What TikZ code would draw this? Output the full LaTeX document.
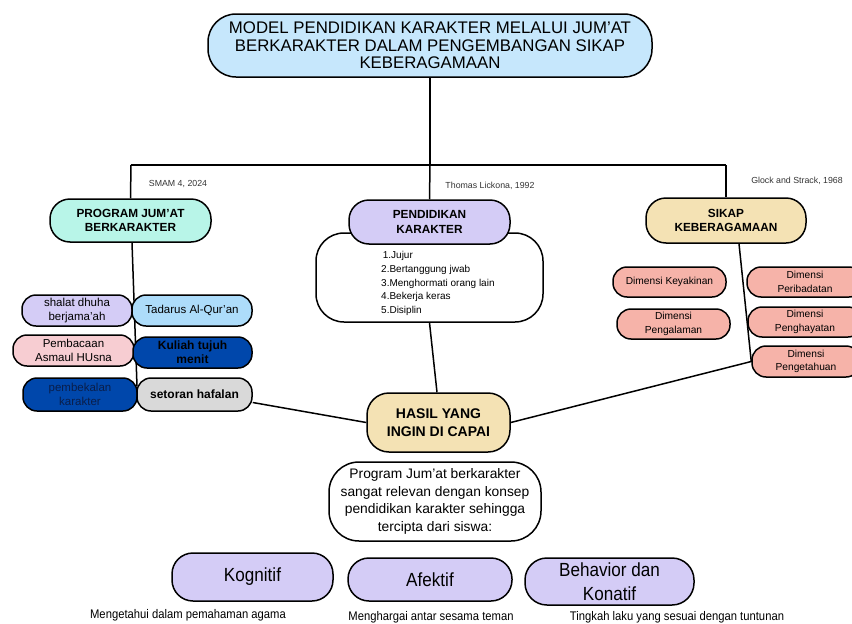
\documentclass[tikz,border=0pt]{standalone}
\usepackage{fontspec}
\setmainfont{Liberation Sans}
\newfontfamily\condf[FakeStretch=0.9]{Liberation Sans}
\newcommand\fsz[2]{\fontsize{#1}{#2}\selectfont}
\definecolor{titleblue}{HTML}{C6E7FC}
\definecolor{mint}{HTML}{B8F5E8}
\definecolor{lav}{HTML}{D4CCF6}
\definecolor{wheat}{HTML}{F4E2B4}
\definecolor{skyb}{HTML}{ADDCFA}
\definecolor{pinkc}{HTML}{F7CDD2}
\definecolor{darkb}{HTML}{0047AB}
\definecolor{grayc}{HTML}{D9D9D9}
\definecolor{salmon}{HTML}{F6B3A9}
\definecolor{navytext}{HTML}{0A1E4A}
\pgfdeclarelayer{background}
\pgfsetlayers{background,main}
\tikzset{
  box/.style={draw, line width=1.5pt, align=center, inner sep=0pt},
  conn/.style={draw, line width=1.5pt},
  ref/.style={font=\fsz{8.8}{10}, text=black!80},
  small/.style={box, rounded corners=14pt, minimum height=31pt, font=\fsz{11.5}{14}},
  dim/.style={box, rounded corners=14pt, fill=salmon, minimum height=30pt, font=\fsz{10.2}{13.5}},
  bot/.style={box, rounded corners=21pt, fill=lav, font=\condf\fsz{19}{24}},
  captxt/.style={font=\condf\fsz{12.5}{14}}
}
\begin{document}
\begin{tikzpicture}[x=1pt,y=-1pt]
\useasboundingbox (0,0) rectangle (852,624);
\clip (0,0) rectangle (852,624);
% title
\node[box, fill=titleblue, minimum width=444pt, minimum height=63pt, rounded corners=28pt, font=\fsz{16.8}{17.5}] (title) at (430,45.5)
 {MODEL PENDIDIKAN KARAKTER MELALUI JUM’AT\\BERKARAKTER DALAM PENGEMBANGAN SIKAP\\KEBERAGAMAAN};
% references
\node[ref] (r1) at (178,184) {SMAM 4, 2024};
\node[ref] (r2) at (490,186) {Thomas Lickona, 1992};
\node[ref] (r3) at (797,181) {Glock and Strack, 1968};
% main boxes
\node[box, fill=mint, minimum width=161pt, minimum height=43pt, rounded corners=20pt, font=\bfseries\fsz{11.8}{14.5}] (prog) at (130.5,220.5) {PROGRAM JUM’AT\\BERKARAKTER};
\node[box, fill=white, minimum width=227pt, minimum height=89pt, rounded corners=28pt] (list) at (429.5,277.5) {};
\node[align=left, inner sep=0pt, font=\fsz{10}{13.8}, anchor=north west] (items) at (381,251)
 {\,1.Jujur\\2.Bertanggung jwab\\3.Menghormati orang lain\\4.Bekerja keras\\5.Disiplin};
\node[box, fill=lav, minimum width=161pt, minimum height=44pt, rounded corners=20pt, font=\bfseries\fsz{11.8}{14.5}] (pend) at (429.5,222) {PENDIDIKAN\\KARAKTER};
\node[box, fill=wheat, minimum width=160pt, minimum height=45pt, rounded corners=20pt, font=\bfseries\fsz{11.8}{14.5}] (sikap) at (726,220.5) {SIKAP\\KEBERAGAMAAN};
\node[box, fill=wheat, minimum width=143pt, minimum height=59pt, rounded corners=22pt, font=\bfseries\fsz{14}{18}] (hasil) at (438.5,422.5) {HASIL YANG\\INGIN DI CAPAI};
% left boxes
\node[small, fill=lav, minimum width=110pt] (shalat) at (77,310.5) {shalat dhuha\\berjama’ah};
\node[small, fill=skyb, minimum width=120pt] (tadarus) at (192,310.5) {Tadarus Al-Qur’an};
\node[small, fill=pinkc, minimum width=121pt] (pembacaan) at (73.5,350.5) {Pembacaan\\Asmaul HUsna};
\node[small, fill=darkb, minimum width=119pt, font=\bfseries\fsz{12}{14}] (kuliah) at (192.5,352.5) {Kuliah tujuh\\menit};
\node[small, fill=darkb, minimum width=114pt, minimum height=33pt, text=navytext] (pembekalan) at (80,394.5) {pembekalan\\karakter};
\node[small, fill=grayc, minimum width=115pt, minimum height=33pt, font=\bfseries\fsz{12}{14}] (setoran) at (194.5,394.5) {setoran hafalan};
% right boxes
\node[dim, minimum width=113pt] (keyakinan) at (669.5,282) {Dimensi Keyakinan};
\node[dim, minimum width=113pt] (pengalaman) at (673.5,324) {Dimensi\\Pengalaman};
\node[dim, minimum width=116pt] (peribadatan) at (805,282) {Dimensi\\Peribadatan};
\node[dim, minimum width=114pt] (penghayatan) at (805,322) {Dimensi\\Penghayatan};
\node[dim, minimum width=108pt, minimum height=31pt] (pengetahuan) at (806,361.5) {Dimensi\\Pengetahuan};
% conclusion
\node[box, fill=white, minimum width=212pt, minimum height=79pt, rounded corners=30pt, font=\fsz{13.8}{17.5}] (concl) at (435,501.5)
 {Program Jum’at berkarakter\\sangat relevan dengan konsep\\pendidikan karakter sehingga\\tercipta dari siswa:};
\node[bot, minimum width=161pt, minimum height=48pt] (kog) at (252.5,577) {Kognitif};
\node[bot, minimum width=164pt, minimum height=43pt] (afek) at (430,579.5) {Afektif};
\node[bot, minimum width=169pt, minimum height=47pt, rounded corners=22pt] (behav) at (609.5,581.5) {Behavior dan\\Konatif};
\node[captxt] (c1) at (188,615) {Mengetahui dalam pemahaman agama};
\node[captxt] (c2) at (431,617) {Menghargai antar sesama teman};
\node[captxt] (c3) at (677,617) {Tingkah laku yang sesuai dengan tuntunan};
% connectors
\coordinate (jc) at (430,165);
\coordinate (jl) at (131,165);
\coordinate (jr) at (726,165);
\coordinate (lend) at (137,386);
\begin{pgfonlayer}{background}
\draw[conn] (title.south) -- (jc);
\draw[conn] (jl) -- (jr);
\draw[conn] (jl) -- (prog.north);
\draw[conn] (jc) -- (pend.north);
\draw[conn] (jr) -- (sikap.north);
\draw[conn] ([xshift=1.5pt]prog.south) -- (lend);
\draw[conn] ([yshift=-8pt]setoran.east) -- (hasil.west);
\draw[conn] (list.south) -- ([xshift=-1.5pt]hasil.north);
\draw[conn] ([xshift=13pt]sikap.south) -- (pengetahuan.west) -- (hasil.east);
\end{pgfonlayer}
\end{tikzpicture}
\end{document}
